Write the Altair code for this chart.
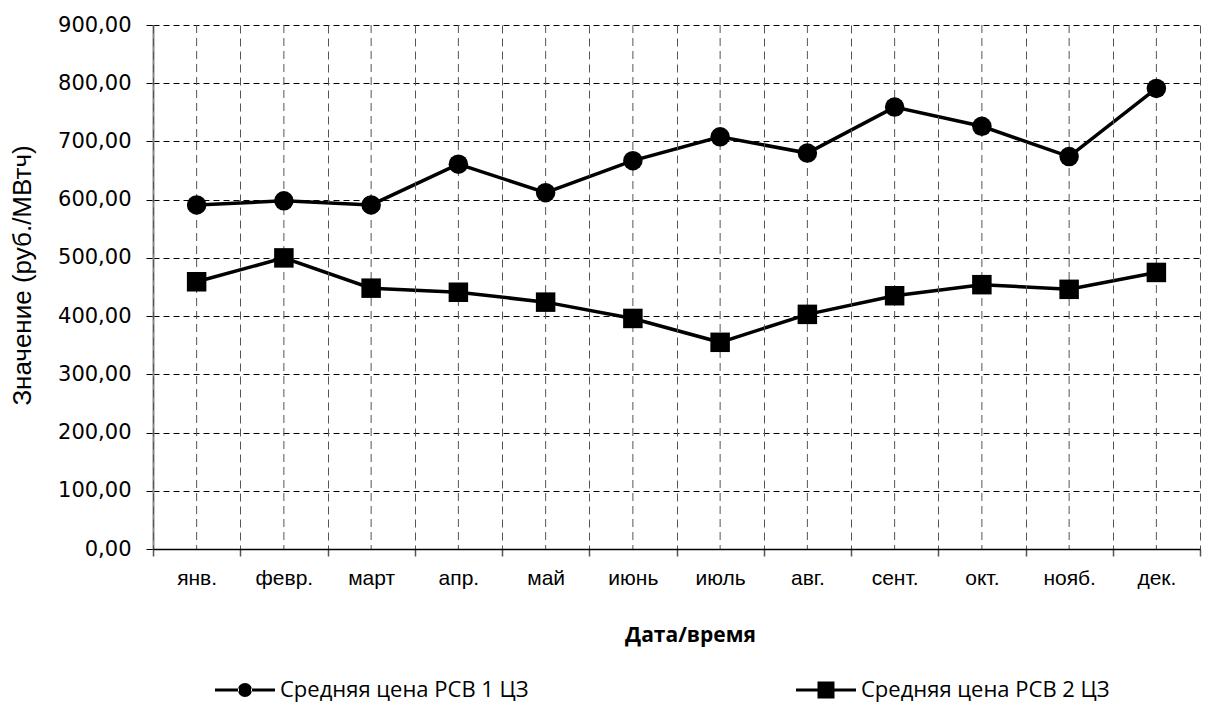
import altair as alt
import pandas as pd

months = ["янв.", "февр.", "март", "апр.", "май", "июнь", "июль", "авг.", "сент.", "окт.", "нояб.", "дек."]
series_names = ["Средняя цена РСВ 1 ЦЗ", "Средняя цена РСВ 2 ЦЗ"]
marker_names = ["circle", "square"]
price_zone1 = [591, 598, 591, 661, 612, 667, 708, 680, 759, 726, 674, 791]
price_zone2 = [459, 500, 448, 441, 424, 396, 355, 403, 435, 454, 446, 475]
y_ticks = [0, 100, 200, 300, 400, 500, 600, 700, 800, 900]

df = pd.DataFrame({
    "month": months * 2,
    "value": price_zone1 + price_zone2,
    "series": [series_names[0]] * 12 + [series_names[1]] * 12,
    "marker": [marker_names[0]] * 12 + [marker_names[1]] * 12,
})
grid_df = pd.DataFrame({"month": months})

x_scale = alt.Scale(type="band", domain=months, paddingInner=0, paddingOuter=0)

x_enc = alt.X(
    "month:N", sort=months, scale=x_scale,
    axis=alt.Axis(
        title="Дата/время", tickBand="extent", grid=True,
        gridColor="#555555", gridDash=[8, 5], gridWidth=1,
        domainColor="black", domainWidth=1.5,
        tickColor="#555555", tickSize=7, tickWidth=1.5,
        labelFont="Liberation Sans", labelFontSize=21, labelColor="black",
        labelPadding=22, labelAngle=0, labelAlign="center",
        titleFont="Open Sans", titleFontSize=21, titleFontWeight="bold",
        titleColor="black", titleX=537, titleY=86, titleBaseline="middle",
        titleAlign="center", zindex=1,
    ),
)
y_enc = alt.Y(
    "value:Q", scale=alt.Scale(domain=[0, 900], nice=False),
    axis=alt.Axis(
        title="Значение (руб./МВтч)", values=y_ticks,
        labelExpr="replace(format(datum.value, '.2f'), '.', ',')",
        grid=True, gridColor="black", gridDash=[6, 4], gridWidth=1,
        domainColor="#888888", domainWidth=2,
        tickColor="black", tickSize=7, tickWidth=1,
        labelFont="DejaVu Sans", labelFontSize=21, labelColor="black",
        labelPadding=15,
        titleFont="Liberation Sans", titleFontSize=26, titleFontWeight="normal",
        titleColor="black", titleAngle=-90, titleX=-131, titleY=250,
        titleAlign="center", titleBaseline="middle",
    ),
)

# legend symbols: line segment with marker (unit space [-1, 1])
p_circle = ("M-1,-0.05H-0.2V0.05H-1Z M0.2,-0.05H1V0.05H0.2Z "
            "M-0.233,0A0.233,0.233,0,1,0,0.233,0A0.233,0.233,0,1,0,-0.233,0Z")
p_square = ("M-1,-0.05H-0.28V0.05H-1Z M0.28,-0.05H1V0.05H0.28Z "
            "M-0.283,-0.283H0.283V0.283H-0.283Z")
shape_expr = f"datum.value === '{series_names[0]}' ? '{p_circle}' : '{p_square}'"

grid_centers = alt.Chart(grid_df).mark_rule(
    color="#555555", strokeDash=[8, 5], strokeWidth=1
).encode(x=alt.X("month:N", sort=months, scale=x_scale))

lines = alt.Chart(df).mark_line(color="black", strokeWidth=3.5).encode(
    x=x_enc, y=y_enc, detail="series:N"
)

points = alt.Chart(df).mark_point(filled=True, opacity=1, size=380).encode(
    x=alt.X("month:N", sort=months, scale=x_scale),
    y=alt.Y("value:Q"),
    shape=alt.Shape(
        "marker:N",
        scale=alt.Scale(domain=marker_names, range=["circle", "square"]),
        legend=None,
    ),
    color=alt.Color(
        "series:N",
        scale=alt.Scale(domain=series_names, range=["black", "black"]),
        legend=alt.Legend(
            title=None, orient="none", legendX=61, legendY=634,
            direction="horizontal", columns=2, columnPadding=266,
            symbolType=alt.ExprRef(expr=shape_expr),
            symbolSize=3600, symbolOpacity=1,
            labelFont="Open Sans", labelFontSize=22, labelColor="black",
            labelOffset=4, labelLimit=400, padding=0,
        ),
    ),
)

chart = alt.layer(grid_centers, lines, points).properties(
    width=1047, height=524,
    autosize=alt.AutoSizeParams(type="none"),
    padding={"left": 145, "top": 17, "right": 2, "bottom": 155},
    background="white",
).configure_view(stroke=None)

chart.save("out.html", embed_options={"renderer": "svg", "actions": False})
